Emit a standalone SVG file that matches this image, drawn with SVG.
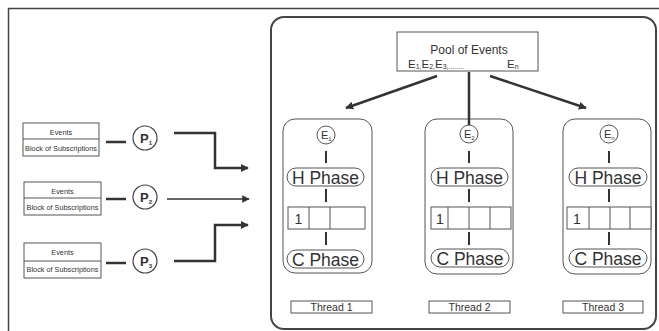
<svg xmlns="http://www.w3.org/2000/svg" width="659" height="331" viewBox="0 0 659 331">
<defs>
<marker id="ah" viewBox="0 0 10 10" refX="9" refY="5" markerWidth="3.2" markerHeight="3.2" orient="auto" markerUnits="strokeWidth">
<path d="M0,0 L10,5 L0,10 z" fill="#333"/>
</marker>
<marker id="ah2" viewBox="0 0 10 10" refX="9" refY="5" markerWidth="5" markerHeight="5" orient="auto" markerUnits="strokeWidth">
<path d="M0,0 L10,5 L0,10 z" fill="#333"/>
</marker>
</defs>
<style>
text{font-family:"Liberation Sans",Arial,sans-serif;fill:#333}
.box{fill:#fff;stroke:#555;stroke-width:1}
.pill{fill:#fff;stroke:#555;stroke-width:1}
.cont{fill:#fff;stroke:#555;stroke-width:1}
.tick{stroke:#333;stroke-width:2}
.conn{fill:none;stroke:#333;stroke-width:2.5;stroke-linecap:butt}
.thin{fill:none;stroke:#333;stroke-width:1.5}
.sm{font-size:7.3px}
.ph{font-size:17.5px}
.th{font-size:10.5px}
.ev{font-size:12px}
</style>
<rect width="659" height="331" fill="#fff"/>
<path d="M8.5,331 V8.5 H659" fill="none" stroke="#444" stroke-width="1.5"/>
<rect x="271" y="17" width="385" height="312" rx="13" fill="#fff" stroke="#444" stroke-width="2"/>

<g id="src1">
<rect class="box" x="23" y="123" width="76" height="33"/>
<line x1="23" y1="139" x2="99" y2="139" stroke="#555"/>
<text class="sm" x="61" y="134.5" text-anchor="middle">Events</text>
<text class="sm" x="61" y="150.5" text-anchor="middle">Block of Subscriptions</text>
</g>
<g id="src2">
<rect class="box" x="24" y="182" width="77" height="33"/>
<line x1="24" y1="198" x2="101" y2="198" stroke="#555"/>
<text class="sm" x="62.5" y="193.5" text-anchor="middle">Events</text>
<text class="sm" x="62.5" y="209.5" text-anchor="middle">Block of Subscriptions</text>
</g>
<g id="src3">
<rect class="box" x="24" y="243" width="77" height="35"/>
<line x1="24" y1="261" x2="101" y2="261" stroke="#555"/>
<text class="sm" x="62.5" y="255" text-anchor="middle">Events</text>
<text class="sm" x="62.5" y="272" text-anchor="middle">Block of Subscriptions</text>
</g>

<g id="p1">
<circle cx="145" cy="138" r="12" fill="#fff" stroke="#444" stroke-width="1.2"/>
<text x="140" y="143" font-size="13" font-weight="bold">P<tspan font-size="6" dy="2">1</tspan></text>
</g>
<g id="p2">
<circle cx="145" cy="197" r="12" fill="#fff" stroke="#444" stroke-width="1.2"/>
<text x="140" y="202" font-size="13" font-weight="bold">P<tspan font-size="6" dy="2">2</tspan></text>
</g>
<g id="p3">
<circle cx="145" cy="261" r="12" fill="#fff" stroke="#444" stroke-width="1.2"/>
<text x="140" y="266" font-size="13" font-weight="bold">P<tspan font-size="6" dy="2">3</tspan></text>
</g>

<g id="pool">
<rect class="box" x="397" y="32" width="141" height="39"/>
<text class="ev" x="469" y="53.5" text-anchor="middle">Pool of Events</text>
<text x="408" y="67.5" font-size="11.5">E<tspan font-size="7" dy="1.5">1,</tspan><tspan dy="-1.5">E</tspan><tspan font-size="7" dy="1.5">2,</tspan><tspan dy="-1.5">E</tspan><tspan font-size="7" dy="1.5">3,........</tspan></text>
<text x="507" y="67.5" font-size="11.5">E<tspan font-size="7" dy="1.5">n</tspan></text>
</g>

<g id="thread1">
<rect class="cont" x="283" y="119" width="89" height="154" rx="12"/>
<circle cx="326" cy="135" r="9" fill="#fff" stroke="#555"/>
<text x="321" y="139" font-size="11">E<tspan font-size="6" dy="2">1</tspan></text>
<line class="tick" x1="326" y1="151" x2="326" y2="163"/>
<rect class="pill" x="287" y="168" width="77" height="18" rx="9"/>
<text class="ph" x="325.5" y="183.5" text-anchor="middle">H Phase</text>
<line class="tick" x1="326" y1="189" x2="326" y2="202"/>
<rect class="box" x="288" y="207" width="77" height="22"/>
<line x1="309" y1="207" x2="309" y2="229" stroke="#555"/>
<line x1="330" y1="207" x2="330" y2="229" stroke="#555"/>
<text x="298.5" y="224" font-size="14" text-anchor="middle">1</text>
<line class="tick" x1="326" y1="232" x2="326" y2="245"/>
<rect class="pill" x="287" y="250" width="77" height="18" rx="9"/>
<text class="ph" x="325.5" y="265.5" text-anchor="middle">C Phase</text>
</g>
<g id="thread2">
<rect class="cont" x="425" y="119" width="88" height="155" rx="12"/>
<circle cx="469" cy="134" r="9" fill="#fff" stroke="#555"/>
<text x="464" y="138" font-size="11">E<tspan font-size="6" dy="2">2</tspan></text>
<line class="tick" x1="469" y1="151" x2="469" y2="163"/>
<rect class="pill" x="431" y="168" width="77" height="18" rx="9"/>
<text class="ph" x="469.5" y="183.5" text-anchor="middle">H Phase</text>
<line class="tick" x1="469" y1="189" x2="469" y2="202"/>
<rect class="box" x="431" y="207" width="80" height="22"/>
<line x1="448" y1="207" x2="448" y2="229" stroke="#555"/>
<line x1="469" y1="207" x2="469" y2="229" stroke="#555"/>
<line x1="490" y1="207" x2="490" y2="229" stroke="#555"/>
<text x="440" y="224" font-size="14" text-anchor="middle">1</text>
<line class="tick" x1="469" y1="232" x2="469" y2="245"/>
<rect class="pill" x="431" y="249" width="78" height="18" rx="9"/>
<text class="ph" x="470" y="264.5" text-anchor="middle">C Phase</text>
</g>
<g id="thread3">
<rect class="cont" x="563" y="119" width="88" height="155" rx="12"/>
<circle cx="609" cy="134" r="9" fill="#fff" stroke="#555"/>
<text x="604" y="138" font-size="11">E<tspan font-size="6" dy="2">n</tspan></text>
<line class="tick" x1="609" y1="151" x2="609" y2="163"/>
<rect class="pill" x="569" y="168" width="78" height="18" rx="9"/>
<text class="ph" x="608" y="183.5" text-anchor="middle">H Phase</text>
<line class="tick" x1="609" y1="189" x2="609" y2="202"/>
<rect class="box" x="567" y="207" width="84" height="22"/>
<line x1="589" y1="207" x2="589" y2="229" stroke="#555"/>
<line x1="610" y1="207" x2="610" y2="229" stroke="#555"/>
<line x1="630" y1="207" x2="630" y2="229" stroke="#555"/>
<text x="577" y="224" font-size="14" text-anchor="middle">1</text>
<line class="tick" x1="609" y1="232" x2="609" y2="245"/>
<rect class="pill" x="569" y="249" width="78" height="18" rx="9"/>
<text class="ph" x="608" y="264.5" text-anchor="middle">C Phase</text>
</g>

<g id="label1"><rect class="box" x="291" y="301" width="81" height="12"/><text class="th" x="331.5" y="311" text-anchor="middle">Thread 1</text></g>
<g id="label2"><rect class="box" x="429" y="301" width="81" height="12"/><text class="th" x="469.5" y="311" text-anchor="middle">Thread 2</text></g>
<g id="label3"><rect class="box" x="563" y="301" width="80" height="12"/><text class="th" x="603" y="311" text-anchor="middle">Thread 3</text></g>

<g id="connectors">
<line x1="106" y1="142" x2="126" y2="142" class="conn" stroke-width="2"/>
<line x1="106" y1="199" x2="126" y2="199" class="conn" stroke-width="2"/>
<line x1="106" y1="263" x2="126" y2="263" class="conn" stroke-width="2"/>
<path class="conn" d="M174,133 H215 V168 H248" marker-end="url(#ah)"/>
<path class="thin" d="M167,199 H249" marker-end="url(#ah2)"/>
<path class="conn" d="M174,261 H215 V225 H248" marker-end="url(#ah)"/>
<path class="conn" d="M437,76 L346,108" marker-end="url(#ah)"/>
<path class="conn" d="M469,72 V125"/>
<path class="conn" d="M490,76 L586,108" marker-end="url(#ah)"/>
</g>
</svg>
